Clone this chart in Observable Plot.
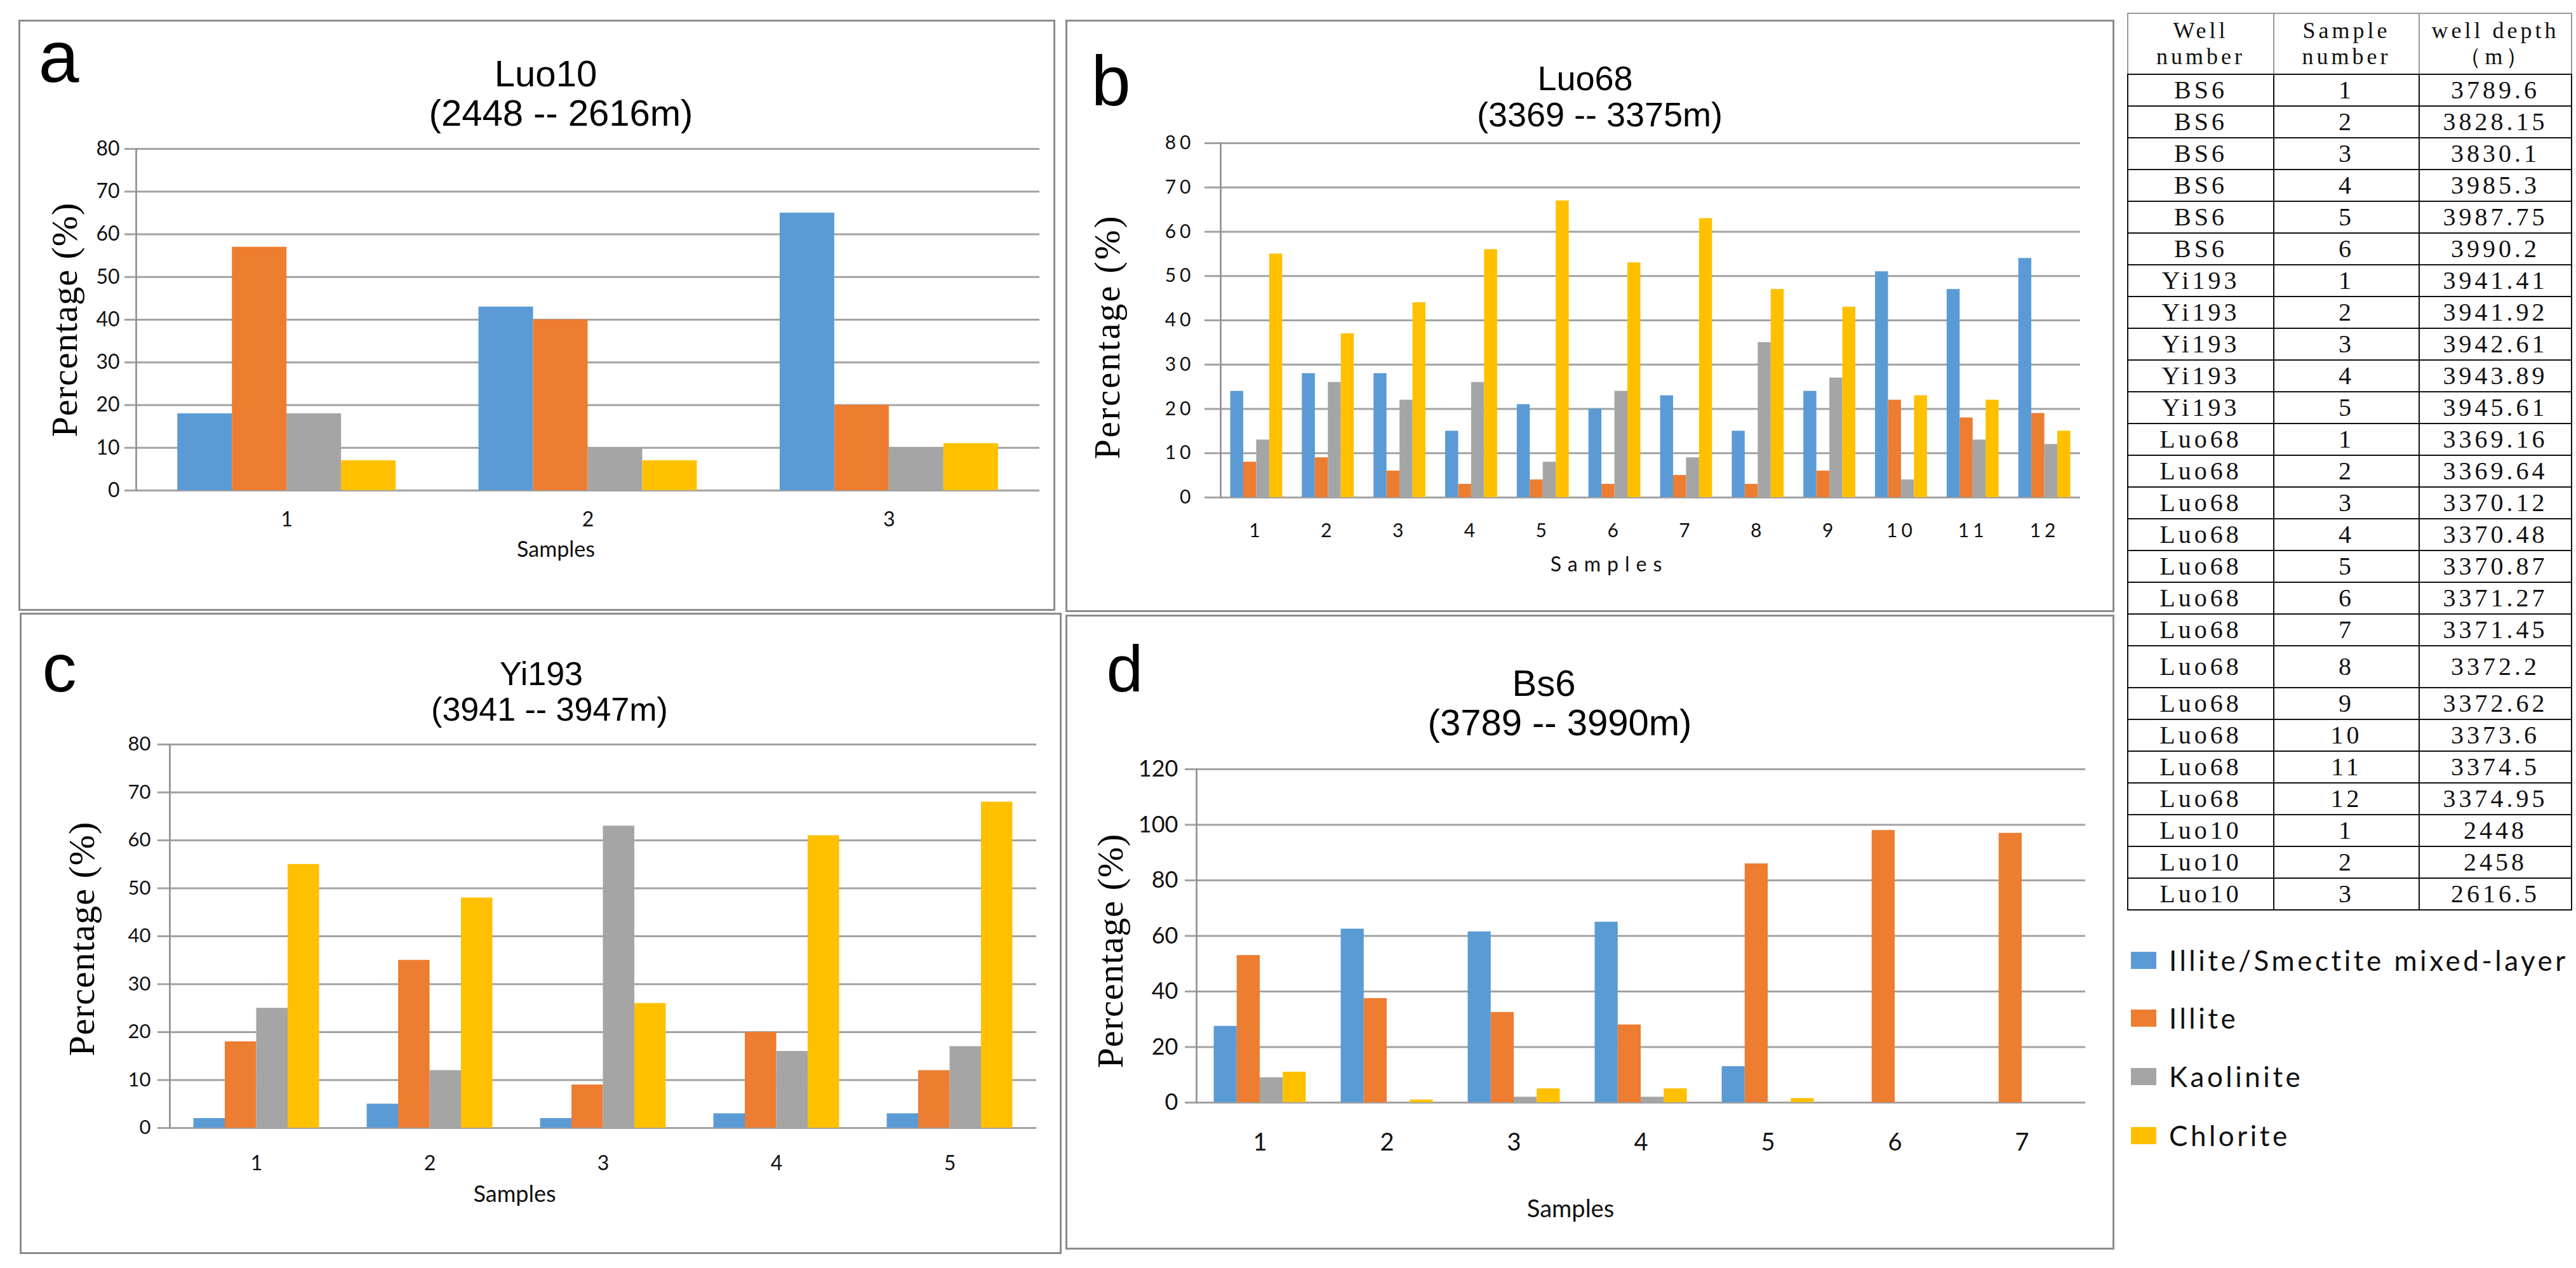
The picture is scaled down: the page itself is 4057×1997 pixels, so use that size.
<!DOCTYPE html>
<html>
<head>
<meta charset="utf-8">
<script src="https://cdn.jsdelivr.net/npm/d3@7"></script>
<script src="https://cdn.jsdelivr.net/npm/@observablehq/plot@0.6"></script>
<style>
html, body { margin: 0; padding: 0; background: #fff; }
#page { position: relative; width: 4057px; height: 1997px; overflow: hidden; background: #fff; }
.panel { position: absolute; }
.panel svg { display: block; outline: 3px solid #8c8c8c; outline-offset: -3px; overflow: visible; }
#panel-b g[aria-label="y-axis tick label"] text,
#panel-b g[aria-label="x-axis tick label"] text { letter-spacing: 6px; }
.ylab text { letter-spacing: 1px; }
#panel-b .ylab text { letter-spacing: 3px; }
#panel-b .xlab text { letter-spacing: 10px; }
#tbl { position: absolute; left: 3350px; top: 20px; border-collapse: collapse; font-family: "Liberation Serif", "Times New Roman", serif; color: #111; }
#tbl td, #tbl th { border: 2.5px solid #111; text-align: center; padding: 0; font-size: 40px; letter-spacing: 5px; line-height: 1; font-weight: normal; }
#tbl th { border-color: #9a9a9a; border-bottom-color: #111; font-size: 36px; line-height: 1.15; }
#legend { position: absolute; left: 3356px; top: 0; font-family: Lato, "Open Sans", sans-serif; }
.lg { position: absolute; left: 0; display: flex; align-items: center; white-space: nowrap; }
.sw { width: 40px; height: 27px; margin-right: 20px; }
.lt { font-size: 44px; letter-spacing: 4.5px; color: #111; }
</style>
</head>
<body>
<div id="page"></div>
<script>
// ---------------- data ----------------
const minerals = ["Illite/Smectite mixed-layer", "Illite", "Kaolinite", "Chlorite"];
const mineralColors = ["#5B9BD5", "#ED7D31", "#A5A5A5", "#FFC000"];

// Luo10 (panel a)
const luo10Samples = ["1", "2", "3"];
const luo10IS = [18, 43, 65];
const luo10Illite = [57, 40, 20];
const luo10Kaolinite = [18, 10, 10];
const luo10Chlorite = [7, 7, 11];

// Luo68 (panel b)
const luo68Samples = ["1", "2", "3", "4", "5", "6", "7", "8", "9", "10", "11", "12"];
const luo68IS = [24, 28, 28, 15, 21, 20, 23, 15, 24, 51, 47, 54];
const luo68Illite = [8, 9, 6, 3, 4, 3, 5, 3, 6, 22, 18, 19];
const luo68Kaolinite = [13, 26, 22, 26, 8, 24, 9, 35, 27, 4, 13, 12];
const luo68Chlorite = [55, 37, 44, 56, 67, 53, 63, 47, 43, 23, 22, 15];

// Yi193 (panel c)
const yi193Samples = ["1", "2", "3", "4", "5"];
const yi193IS = [2, 5, 2, 3, 3];
const yi193Illite = [18, 35, 9, 20, 12];
const yi193Kaolinite = [25, 12, 63, 16, 17];
const yi193Chlorite = [55, 48, 26, 61, 68];

// Bs6 (panel d)
const bs6Samples = ["1", "2", "3", "4", "5", "6", "7"];
const bs6IS = [27.5, 62.5, 61.5, 65, 13, 0, 0];
const bs6Illite = [53, 37.5, 32.5, 28, 86, 98, 97];
const bs6Kaolinite = [9, 0, 2, 2, 0, 0, 0];
const bs6Chlorite = [11, 1, 5, 5, 1.5, 0, 0];

// y ticks
const yTicks80 = [0, 10, 20, 30, 40, 50, 60, 70, 80];
const yTicks120 = [0, 20, 40, 60, 80, 100, 120];

// titles
const titles = {
  a: ["a", "Luo10", "(2448 -- 2616m)"],
  b: ["b", "Luo68", "(3369 -- 3375m)"],
  c: ["c", "Yi193", "(3941 -- 3947m)"],
  d: ["d", "Bs6", "(3789 -- 3990m)"]
};
const yLabel = "Percentage (%)";
const xLabel = "Samples";

// table
const tableHeader = [["Well", "number"], ["Sample", "number"], ["well depth", "（m）"]];
const tableWells = ["BS6","BS6","BS6","BS6","BS6","BS6","Yi193","Yi193","Yi193","Yi193","Yi193",
  "Luo68","Luo68","Luo68","Luo68","Luo68","Luo68","Luo68","Luo68","Luo68","Luo68","Luo68","Luo68",
  "Luo10","Luo10","Luo10"];
const tableSamples = ["1","2","3","4","5","6","1","2","3","4","5",
  "1","2","3","4","5","6","7","8","9","10","11","12","1","2","3"];
const tableDepths = ["3789.6","3828.15","3830.1","3985.3","3987.75","3990.2",
  "3941.41","3941.92","3942.61","3943.89","3945.61",
  "3369.16","3369.64","3370.12","3370.48","3370.87","3371.27","3371.45","3372.2","3372.62","3373.6","3374.5","3374.95",
  "2448","2458","2616.5"];

// ---------------- layout / style ----------------
const PAD = 0.275;
const GRID = "#a2a2a2";
const AXIS = "#8a8a8a";
const SANS = "'Liberation Sans', Arial, sans-serif";
const SERIF = "'Liberation Serif', 'Times New Roman', serif";
const TICKF = "Lato, 'Open Sans', sans-serif";

const layout = {
  a: {box: [29, 31, 1662, 962], plot: [214, 1637, 234, 772], yDomain: [0, 80], yTicks: yTicks80,
      tickSize: 18, tickPad: 8, tickFont: 32, xPad: 34, xFont: 32,
      letter: [60, 128, 115], title: [859, 135, 58], sub: [883, 197, 58], ylab: [102, 503, 58], xlab: [875, 866, 34]},
  b: {box: [1678, 31, 3330, 964], plot: [1922, 3276, 225, 783], yDomain: [0, 80], yTicks: yTicks80,
      tickSize: 25, tickPad: 16, tickFont: 30, xPad: 41, xFont: 30,
      letter: [1718, 165, 112], title: [2496, 141, 54], sub: [2519, 198, 54], ylab: [1745, 530, 56], xlab: [2534, 889, 32]},
  c: {box: [31, 965, 1672, 1975], plot: [267, 1632, 1172, 1776], yDomain: [0, 80], yTicks: yTicks80,
      tickSize: 19, tickPad: 11, tickFont: 31, xPad: 44, xFont: 32,
      letter: [66, 1088, 108], title: [852, 1078, 52], sub: [865, 1134, 52], ylab: [129, 1478, 58], xlab: [810, 1881, 36]},
  d: {box: [1678, 968, 3330, 1968], plot: [1884, 3284, 1211, 1736], yDomain: [0, 120], yTicks: yTicks120,
      tickSize: 18, tickPad: 11, tickFont: 36, xPad: 49, xFont: 38,
      letter: [1742, 1088, 104], title: [2431, 1095, 58], sub: [2456, 1157, 58], ylab: [1749, 1497, 58], xlab: [2473, 1904, 38]}
};

const series = {
  a: [luo10Samples, [luo10IS, luo10Illite, luo10Kaolinite, luo10Chlorite]],
  b: [luo68Samples, [luo68IS, luo68Illite, luo68Kaolinite, luo68Chlorite]],
  c: [yi193Samples, [yi193IS, yi193Illite, yi193Kaolinite, yi193Chlorite]],
  d: [bs6Samples, [bs6IS, bs6Illite, bs6Kaolinite, bs6Chlorite]]
};

function makeRows(samples, vals) {
  const rows = [];
  minerals.forEach((m, k) => samples.forEach((s, i) => rows.push({sample: s, mineral: m, value: vals[k][i]})));
  return rows;
}

function buildPanel(key) {
  const L = layout[key];
  const [samples, vals] = series[key];
  const [bl, bt, br, bb] = L.box;
  const [x0, x1, y0, y1] = L.plot;
  const width = br - bl, height = bb - bt;
  const W = x1 - x0;
  const B = W / samples.length * (1 - PAD);
  const rows = makeRows(samples, vals);
  const [letter, title, sub] = titles[key];
  const txt = (str, pos, opts) => Plot.text([str], {
    frameAnchor: "top-left", text: d => d, dx: pos[0] - x0, dy: pos[1] - y0, fontSize: pos[2], fill: "#000", ...opts
  });
  const marks = [
    Plot.gridY(L.yTicks, {stroke: GRID, strokeOpacity: 1, strokeWidth: 3}),
    ...minerals.map((m, k) => Plot.barY(rows.filter(r => r.mineral === m), {
      x: "sample", y: "value", fill: "mineral",
      insetLeft: k * B / 4, insetRight: (3 - k) * B / 4
    })),
    Plot.frame({anchor: "left", stroke: AXIS, strokeWidth: 2.5}),
    Plot.axisY({ticks: L.yTicks, tickSize: L.tickSize, tickPadding: L.tickPad, stroke: GRID, strokeWidth: 3,
      strokeOpacity: 1, fontSize: L.tickFont, fontFamily: TICKF, fill: "#111", label: null}),
    Plot.axisX({tickSize: 0, tickPadding: L.xPad, fontSize: L.xFont, fontFamily: TICKF, fill: "#111", label: null}),
    txt(letter, L.letter, {textAnchor: "start", lineAnchor: "bottom", fontFamily: SANS}),
    txt(title, L.title, {textAnchor: "middle", lineAnchor: "bottom", fontFamily: SANS}),
    txt(sub, L.sub, {textAnchor: "middle", lineAnchor: "bottom", fontFamily: SANS}),
    txt(yLabel, L.ylab, {textAnchor: "middle", lineAnchor: "middle", rotate: -90, fontFamily: SERIF, className: "ylab"}),
    txt(xLabel, L.xlab, {textAnchor: "middle", lineAnchor: "middle", fontFamily: TICKF, className: "xlab", fill: "#111"})
  ];
  const chart = Plot.plot({
    width, height,
    marginLeft: x0 - bl, marginRight: br - x1, marginTop: y0 - bt, marginBottom: bb - y1,
    x: {type: "band", domain: samples, paddingInner: PAD, paddingOuter: PAD / 2, round: false},
    y: {domain: L.yDomain},
    color: {domain: minerals, range: mineralColors},
    style: {background: "#fff", fontFamily: TICKF, overflow: "visible"},
    marks
  });
  const div = document.createElement("div");
  div.className = "panel";
  div.id = "panel-" + key;
  div.style.left = bl + "px";
  div.style.top = bt + "px";
  div.appendChild(chart);
  document.getElementById("page").appendChild(div);
}

["a", "b", "c", "d"].forEach(buildPanel);

// ---------------- table ----------------
const colWidths = [228, 227, 238];
const tbl = document.createElement("table");
tbl.id = "tbl";
const thr = document.createElement("tr");
thr.style.height = "96px";
tableHeader.forEach((h, j) => {
  const th = document.createElement("th");
  th.style.width = colWidths[j] + "px";
  th.innerHTML = h.join("<br>");
  thr.appendChild(th);
});
tbl.appendChild(thr);
tableWells.forEach((w, i) => {
  const tr = document.createElement("tr");
  const tall = (w === "Luo68" && tableSamples[i] === "8");
  tr.style.height = (tall ? 66 : 50) + "px";
  [w, tableSamples[i], tableDepths[i]].forEach(v => {
    const td = document.createElement("td");
    td.textContent = v;
    tr.appendChild(td);
  });
  tbl.appendChild(tr);
});
document.getElementById("page").appendChild(tbl);

// ---------------- legend ----------------
const legendY = [1512, 1603, 1695, 1788];
const lg = document.createElement("div");
lg.id = "legend";
minerals.forEach((m, k) => {
  const it = document.createElement("div");
  it.className = "lg";
  it.style.top = (legendY[k] - 27) + "px";
  it.style.height = "54px";
  const sw = document.createElement("div");
  sw.className = "sw";
  sw.style.background = mineralColors[k];
  const t = document.createElement("span");
  t.className = "lt";
  t.textContent = m;
  it.appendChild(sw);
  it.appendChild(t);
  lg.appendChild(it);
});
document.getElementById("page").appendChild(lg);
</script>
</body>
</html>
